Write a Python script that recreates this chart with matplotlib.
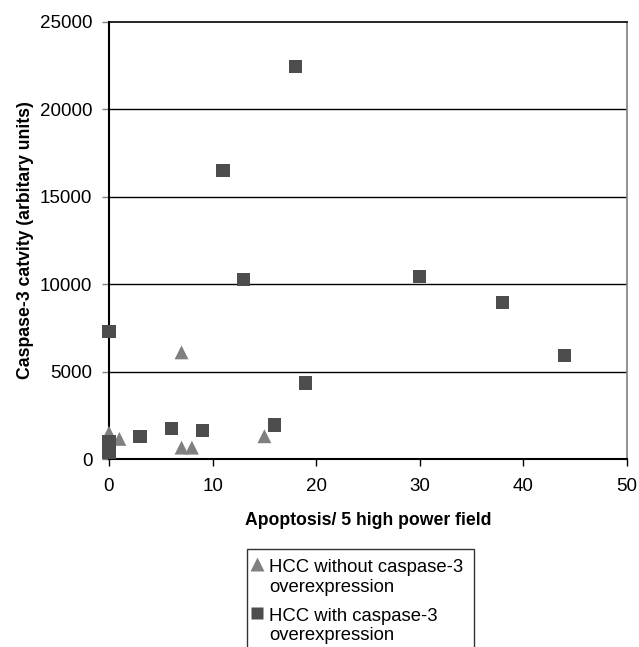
import numpy as np
import matplotlib.pyplot as plt
from matplotlib.lines import Line2D
from matplotlib.legend_handler import HandlerLine2D

# HCC without caspase-3 overexpression (triangles)
x_without = [7, 0, 1, 7, 8, 15]
y_without = [6100, 1500, 1150, 650, 650, 1300]

# HCC with caspase-3 overexpression (squares)
x_with = [0, 18, 11, 13, 30, 38, 44, 19, 16, 9, 6, 3, 0, 0, 0]
y_with = [7300, 22450, 16500, 10250, 10450, 8950, 5900, 4350, 1950, 1650, 1750, 1300, 1000, 650, 350]

x_ticks = [0, 10, 20, 30, 40, 50]
y_ticks = [0, 5000, 10000, 15000, 20000, 25000]

plt.rcParams['font.family'] = ['Liberation Sans', 'DejaVu Sans']


# legend handler that puts the marker next to the first line of a two-line label
class TopLineHandler(HandlerLine2D):
    def __init__(self, dx, dy, **kw):
        super().__init__(**kw)
        self.dx, self.dy = dx, dy

    def create_artists(self, legend, orig_handle, xdescent, ydescent, width, height, fontsize, trans):
        arts = super().create_artists(legend, orig_handle, xdescent, ydescent, width, height, fontsize, trans)
        for a in arts:
            a.set_xdata([x + self.dx for x in a.get_xdata()])
            a.set_ydata([y + self.dy for y in a.get_ydata()])
        return arts


fig = plt.figure(figsize=(6.39, 6.47), dpi=100)
ax = fig.add_axes([109/639, 1-459/647, 518/639, 437/647])

ax.scatter(x_without, y_without, marker="^", s=100, c="#808080", edgecolors="none",
           zorder=3, clip_on=False)
ax.scatter(x_with, y_with, marker="s", s=90, c="#4d4d4d", edgecolors="none",
           zorder=3, clip_on=False)

ax.set_xlim(0, 50)
ax.set_ylim(0, 25000)
ax.set_xticks(x_ticks)
ax.set_yticks(y_ticks)
ax.tick_params(axis="both", labelsize=13.5, direction="out", length=5, color="#808080", width=1)
ax.tick_params(axis="y", pad=7)
ax.tick_params(axis="x", color="black", pad=9)

for yv in y_ticks[1:-1]:
    ax.axhline(yv, color="black", lw=1, zorder=1)

ax.spines["left"].set_linewidth(1.5)
ax.spines["bottom"].set_linewidth(1.5)
ax.spines["top"].set_linewidth(1.2)
ax.spines["right"].set_color("#808080")
ax.spines["right"].set_linewidth(1.2)

ax.set_xlabel("Apoptosis/ 5 high power field", fontsize=12.7, fontweight="bold", labelpad=12)
ax.set_ylabel("Caspase-3 catvity (arbitary units)", fontsize=12.7, fontweight="bold", labelpad=4)

h_tri = Line2D([], [], ls="none", marker="^", ms=10, color="#808080", mec="none")
h_sq = Line2D([], [], ls="none", marker="s", ms=8.5, color="#4d4d4d", mec="none")
labels = ["HCC without caspase-3\noverexpression", "HCC with caspase-3\noverexpression"]
lfs = 13.3
leg = fig.legend([h_tri, h_sq], labels, loc="upper left", bbox_to_anchor=(247/639, 1-549/647),
                 fontsize=lfs, frameon=True, fancybox=False, edgecolor="black",
                 handletextpad=0.05, handlelength=0.6, borderpad=0.55, labelspacing=0.65,
                 borderaxespad=0,
                 handler_map={Line2D: TopLineHandler(dx=-4.1, dy=9.5)})
leg.get_frame().set_linewidth(1)
for t in leg.get_texts():
    t.set_linespacing(1.2)

plt.savefig("out.png", dpi=100)
